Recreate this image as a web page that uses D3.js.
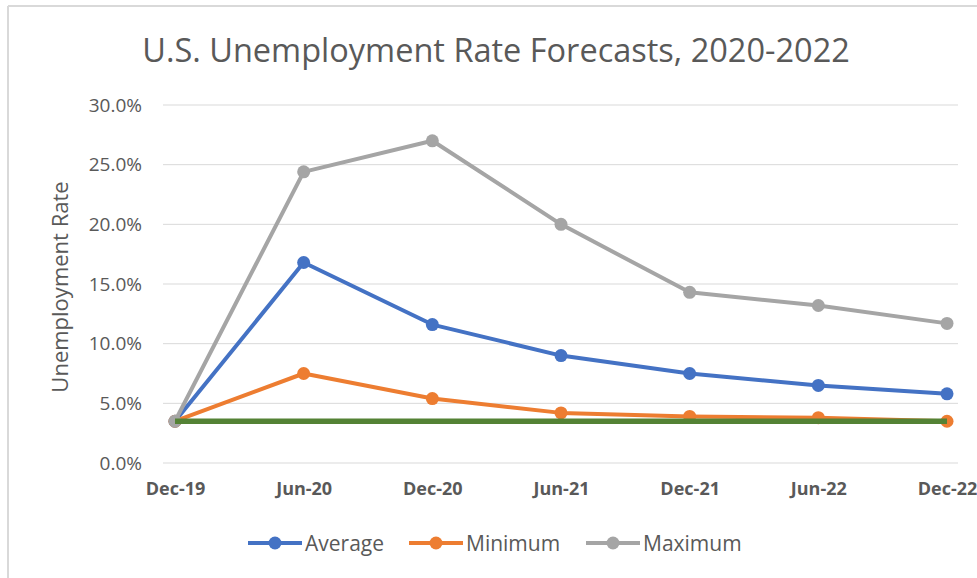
<!DOCTYPE html>
<html>
<head>
<meta charset="utf-8">
<script src="https://cdn.jsdelivr.net/npm/d3@7"></script>
<style>
body { margin: 0; background: #fff; }
text { font-family: "Open Sans", "Noto Sans", sans-serif; fill: #595959; }
</style>
</head>
<body>
<div id="chart"></div>
<script>
// data
var periods = ["Dec-19", "Jun-20", "Dec-20", "Jun-21", "Dec-21", "Jun-22", "Dec-22"];
var averageValues = [3.5, 16.8, 11.6, 9.0, 7.5, 6.5, 5.8];
var minimumValues = [3.5, 7.5, 5.4, 4.2, 3.9, 3.8, 3.5];
var maximumValues = [3.5, 24.4, 27.0, 20.0, 14.3, 13.2, 11.7];
var actualValues = [3.5, 3.5, 3.5, 3.5, 3.5, 3.5, 3.5];
var yTicks = [0, 5, 10, 15, 20, 25, 30];

var seriesList = [
	{name: "Average", values: averageValues, color: "#4472C4", marker: true},
	{name: "Minimum", values: minimumValues, color: "#ED7D31", marker: true},
	{name: "Maximum", values: maximumValues, color: "#A5A5A5", marker: true},
	{name: "Dec-19 rate", values: actualValues, color: "#548235", marker: false}
];

var width = 977, height = 578;
var svg = d3.select("#chart").append("svg")
	.attr("width", width)
	.attr("height", height);

// chart frame (only left and top edges show)
svg.append("line").attr("x1", 8).attr("y1", 6).attr("x2", 8).attr("y2", height)
	.attr("stroke", "#d9d9d9").attr("stroke-width", 2);
svg.append("line").attr("x1", 8).attr("y1", 6).attr("x2", width).attr("y2", 6)
	.attr("stroke", "#d9d9d9").attr("stroke-width", 2);

var x = d3.scalePoint().domain(periods).range([175, 947]);
var y = d3.scaleLinear().domain([0, 30]).range([463, 105]);

svg.append("text")
	.attr("x", 496).attr("y", 62)
	.attr("text-anchor", "middle")
	.style("font-size", "32.5px")
	.text("U.S. Unemployment Rate Forecasts, 2020-2022");

// gridlines
svg.append("g").selectAll("line").data(yTicks).enter().append("line")
	.attr("x1", 163).attr("x2", 958)
	.attr("y1", function(d) { return y(d); })
	.attr("y2", function(d) { return y(d); })
	.attr("stroke", "#d9d9d9").attr("stroke-width", 1);

// y axis
var yAxis = svg.append("g")
	.attr("transform", "translate(150,0)")
	.call(d3.axisLeft(y).tickValues(yTicks).tickSize(0).tickPadding(8)
		.tickFormat(function(d) { return d.toFixed(1) + "%"; }));
yAxis.select(".domain").remove();
yAxis.selectAll("text").style("font-size", "19px").attr("fill", "#595959");

// x axis
var xAxis = svg.append("g")
	.attr("transform", "translate(0,477)")
	.call(d3.axisBottom(x).tickSize(0).tickPadding(5));
xAxis.select(".domain").remove();
xAxis.selectAll("text").style("font-size", "18px").style("font-weight", "bold").attr("fill", "#595959");

svg.append("text")
	.attr("transform", "translate(68,287) rotate(-90)")
	.attr("text-anchor", "middle")
	.style("font-size", "22px")
	.text("Unemployment Rate");

var line = d3.line()
	.x(function(d, i) { return x(periods[i]); })
	.y(function(d) { return y(d); });

seriesList.forEach(function(s) {
	var g = svg.append("g");
	g.append("path")
		.attr("d", line(s.values))
		.attr("fill", "none")
		.attr("stroke", s.color)
		.attr("stroke-width", s.marker ? 4 : 5.5)
		.attr("stroke-linejoin", "round");
	if (s.marker) {
		g.selectAll("circle").data(s.values).enter().append("circle")
			.attr("cx", function(d, i) { return x(periods[i]); })
			.attr("cy", function(d) { return y(d); })
			.attr("r", 6.5)
			.attr("fill", s.color);
	}
});

// legend
var legendX = [248, 409, 586];
var legend = svg.append("g").selectAll("g")
	.data(seriesList.filter(function(s) { return s.marker; }))
	.enter().append("g")
	.attr("transform", function(d, i) { return "translate(" + legendX[i] + ",543)"; });
legend.append("line").attr("x1", 0).attr("x2", 54)
	.attr("stroke", function(d) { return d.color; }).attr("stroke-width", 4);
legend.append("circle").attr("cx", 27).attr("r", 6.5)
	.attr("fill", function(d) { return d.color; });
legend.append("text").attr("x", 57).attr("y", 7.5)
	.style("font-size", "21px")
	.text(function(d) { return d.name; });
</script>
</body>
</html>
